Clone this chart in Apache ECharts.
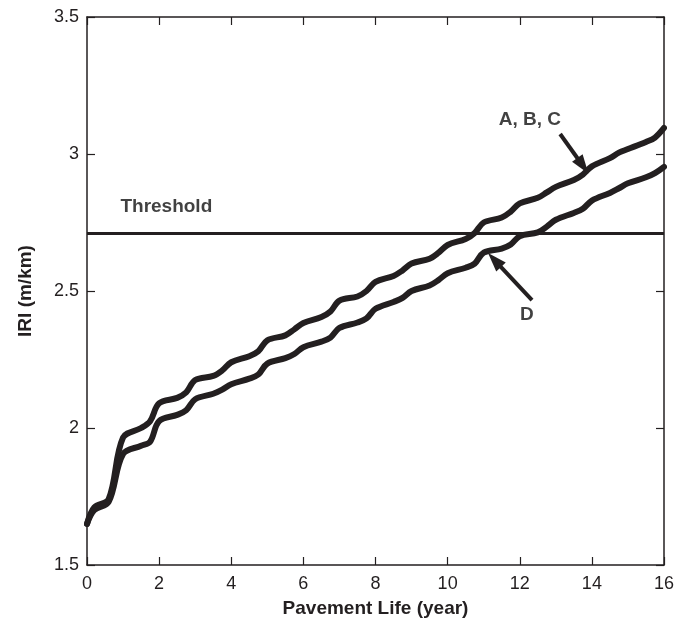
<!DOCTYPE html>
<html>
<head>
<meta charset="utf-8">
<script src="https://cdn.jsdelivr.net/npm/echarts@6/dist/echarts.min.js"></script>
<style>
  html, body { margin: 0; padding: 0; background: #fff; }
  #chart { width: 689px; height: 619px; }
</style>
</head>
<body>
<div id="chart"></div>
<script>
// pavement life (years) where the curves were read
const lifeYears = [
  0, 0.2, 0.6, 1.0, 1.5, 1.75, 2.0, 2.5, 2.75, 3.0, 3.5, 3.75, 4.0, 4.5, 4.75,
  5.0, 5.5, 5.75, 6.0, 6.5, 6.75, 7.0, 7.5, 7.75, 8.0, 8.5, 8.75, 9.0, 9.5, 9.75,
  10.0, 10.5, 10.75, 11.0, 11.5, 11.75, 12.0, 12.5, 12.75, 13.0, 13.5, 13.75,
  14.0, 14.5, 14.75, 15.0, 15.5, 15.75, 16.0
];
// IRI for alternatives A, B, C (same curve)
const iriABC = [
  1.65, 1.71, 1.74, 1.965, 2.0, 2.025, 2.09, 2.11, 2.13, 2.175, 2.19, 2.21, 2.24, 2.262, 2.28,
  2.32, 2.338, 2.36, 2.383, 2.405, 2.425, 2.465, 2.48, 2.5, 2.533, 2.555, 2.575, 2.6, 2.618, 2.64,
  2.668, 2.69, 2.712, 2.75, 2.768, 2.79, 2.82, 2.84, 2.86, 2.88, 2.905, 2.925,
  2.955, 2.985, 3.005, 3.018, 3.044, 3.06, 3.095
];
// IRI for alternative D
const iriD = [
  1.65, 1.70, 1.73, 1.905, 1.935, 1.95, 2.025, 2.048, 2.065, 2.105, 2.125, 2.14, 2.16, 2.18, 2.195,
  2.235, 2.255, 2.27, 2.295, 2.315, 2.33, 2.365, 2.385, 2.4, 2.435, 2.46, 2.475, 2.5, 2.52, 2.54,
  2.565, 2.585, 2.6, 2.64, 2.655, 2.67, 2.7, 2.714, 2.735, 2.76, 2.785, 2.8,
  2.83, 2.858, 2.875, 2.893, 2.915, 2.93, 2.953
];
const thresholdIRI = 2.715;

const ink = '#231f20';
const font = 'Liberation Sans, Arial, sans-serif';

function pairs(xs, ys) {
  return xs.map((x, i) => [x, ys[i]]);
}

const chart = echarts.init(document.getElementById('chart'), null, { renderer: 'canvas' });

const xBase = {
  type: 'value', min: 0, max: 16, interval: 2,
  axisLine: { show: true, onZero: false, lineStyle: { color: ink, width: 1.5 } },
  axisTick: { show: true, inside: true, length: 8, lineStyle: { color: ink, width: 1.2 } },
  splitLine: { show: false }
};
const yBase = {
  type: 'value', min: 1.5, max: 3.5, interval: 0.5,
  axisLine: { show: true, onZero: false, lineStyle: { color: ink, width: 1.5 } },
  axisTick: { show: true, inside: true, length: 8, lineStyle: { color: ink, width: 1.2 } },
  splitLine: { show: false }
};

const nameStyle = { color: ink, fontFamily: font, fontSize: 19, fontWeight: 'bold' };
const arrowLine = { color: ink, width: 4, type: 'solid' };

chart.setOption({
  animation: false,
  backgroundColor: '#fff',
  grid: { left: 87, right: 25, top: 17, bottom: 54, containLabel: false, outerBoundsMode: 'none' },
  xAxis: [
    Object.assign({}, xBase, {
      position: 'bottom',
      name: 'Pavement Life (year)', nameLocation: 'middle', nameGap: 34,
      nameTextStyle: nameStyle,
      axisLabel: { color: ink, fontFamily: font, fontSize: 18, margin: 10 }
    }),
    Object.assign({}, xBase, { position: 'top', axisLabel: { show: false } })
  ],
  yAxis: [
    Object.assign({}, yBase, {
      position: 'left',
      name: 'IRI (m/km)', nameLocation: 'middle', nameGap: 52,
      nameTextStyle: nameStyle,
      axisLabel: { color: ink, fontFamily: font, fontSize: 18, margin: 8 }
    }),
    Object.assign({}, yBase, { position: 'right', axisLabel: { show: false } })
  ],
  series: [
    {
      name: 'A, B, C', type: 'line', data: pairs(lifeYears, iriABC),
      smooth: 0.35, showSymbol: false, z: 3,
      lineStyle: { color: ink, width: 6, cap: 'round', join: 'round' },
      markLine: {
        silent: true, symbol: ['none', 'none'], animation: false,
        label: { show: false },
        lineStyle: { color: ink, width: 3, type: 'solid' },
        data: [{ yAxis: thresholdIRI }]
      }
    },
    {
      name: 'D', type: 'line', data: pairs(lifeYears, iriD),
      smooth: 0.35, showSymbol: false, z: 3,
      lineStyle: { color: ink, width: 6, cap: 'round', join: 'round' },
      markLine: {
        silent: true, animation: false,
        symbol: ['none', 'triangle'], symbolSize: [13, 19],
        label: { show: false },
        lineStyle: arrowLine,
        data: [
          [{ coord: [13.12, 3.073] }, { coord: [13.75, 2.957] }],
          [{ coord: [12.34, 2.467] }, { coord: [11.3, 2.613] }]
        ]
      }
    },
    {
      type: 'scatter', symbolSize: 0, silent: true, z: 5,
      label: {
        show: true, position: 'inside', color: '#111', fontFamily: font,
        fontSize: 19, fontWeight: 'bold', textBorderWidth: 0,
        formatter: p => p.data.name
      },
      data: [
        { name: 'Threshold', value: [2.2, 2.807] },
        { name: 'A, B, C', value: [12.28, 3.124] },
        { name: 'D', value: [12.2, 2.412] }
      ]
    }
  ]
});
</script>
</body>
</html>
